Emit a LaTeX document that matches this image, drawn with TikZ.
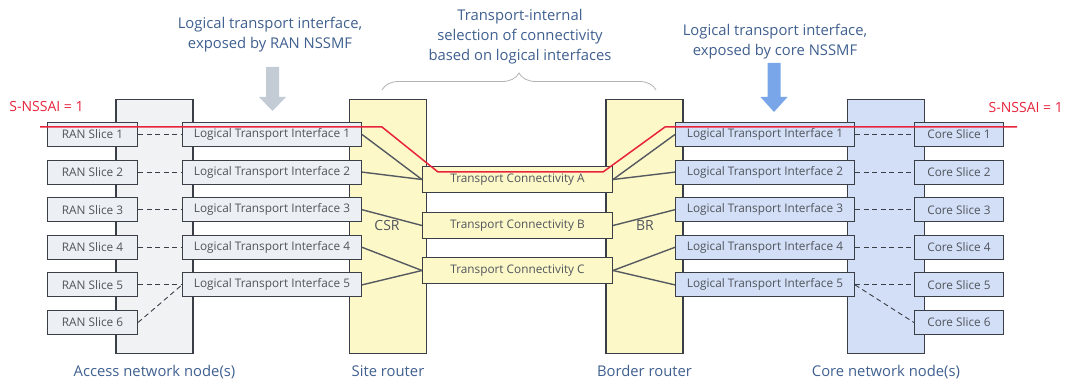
\documentclass[tikz,border=0pt]{standalone}
\usepackage{fontspec}
\setmainfont{Open Sans}
\usepackage{tikz}
\usetikzlibrary{positioning,decorations.pathreplacing}
\usepackage{xcolor}
\definecolor{boxline}{HTML}{3A3F47}
\definecolor{boxtext}{HTML}{50555C}
\definecolor{ranfill}{HTML}{ECEFF3}
\definecolor{accessfill}{HTML}{F1F2F4}
\definecolor{routerfill}{HTML}{FDF8C8}
\definecolor{corefill}{HTML}{D3DFF6}
\definecolor{linkgray}{HTML}{555A61}
\definecolor{capblue}{HTML}{3F5F8F}
\definecolor{nssai}{HTML}{E8243C}
\definecolor{arrowgray}{HTML}{C3CCD5}
\definecolor{arrowblue}{HTML}{78A6E8}

\begin{document}
\begin{tikzpicture}[
    x=1pt, y=-1pt,
    every node/.style={inner sep=0pt, text=boxtext},
    smallbox/.style={draw=boxline, line width=1.1pt, minimum height=24pt,
        font=\fontsize{11.8}{13}\selectfont},
    ranslice/.style={smallbox, fill=ranfill, minimum width=90pt},
    ltiran/.style={smallbox, fill=ranfill, minimum width=179pt},
    lticore/.style={smallbox, fill=corefill, minimum width=179pt},
    coreslice/.style={smallbox, fill=corefill, minimum width=89pt},
    tconn/.style={smallbox, fill=routerfill, minimum width=190pt, minimum height=26pt},
    tallbox/.style={draw=boxline, line width=1.1pt, minimum width=77pt, minimum height=254pt},
    caption/.style={text=capblue, font=\fontsize{14.8}{20}\selectfont, align=center},
    dashline/.style={draw=boxline, line width=0.9pt, dash pattern=on 5pt off 3.5pt},
    link/.style={draw=linkgray, line width=1.4pt},
    redlabel/.style={text=nssai, font=\fontsize{14}{16}\selectfont}
]
    \useasboundingbox (0,0) rectangle (1066,379);

    % network elements
    \node[tallbox, fill=accessfill] (access) at (154.5,226.5) {};
    \node[tallbox, fill=routerfill] (csr) at (388,226.5) {};
    \node[tallbox, fill=routerfill] (br) at (644.5,226.5) {};
    \node[tallbox, fill=corefill] (corenode) at (886,226.5) {};

    \node[caption, below=11pt of access] {Access network node(s)};
    \node[caption, below=11pt of csr] {Site router};
    \node[caption, below=11pt of br] {Border router};
    \node[caption, below=11pt of corenode] {Core network node(s)};

    \node[font=\fontsize{14}{16}\selectfont] (csrlabel) at (387,226) {CSR};
    \node[font=\fontsize{14}{16}\selectfont] (brlabel) at (645,226) {BR};

    % slices and logical interfaces
    \foreach \i in {1,...,6} {
        \node[ranslice] (ran\i) at (92.5,{134.5+37.6*(\i-1)}) {RAN Slice \i};
        \node[coreslice] (core\i) at (959,{134.5+37.6*(\i-1)}) {Core Slice \i};
    }
    \foreach \i in {1,...,5} {
        \node[ltiran] (ltil\i) at (272,{134.5+37.6*(\i-1)}) {Logical Transport Interface \i};
        \node[lticore] (ltir\i) at (765,{134.5+37.6*(\i-1)}) {Logical Transport Interface \i};
        \draw[dashline] (ran\i.east) -- (ltil\i.west);
        \draw[dashline] (ltir\i.east) -- (core\i.west);
    }
    \draw[dashline] (ran6.east) -- (ltil5.west);
    \draw[dashline] (ltir5.east) -- (core6.west);

    % transport connectivity
    \node[tconn] (tca) at (517.5,179.5) {Transport Connectivity A};
    \node[tconn] (tcb) at (517.5,225.5) {Transport Connectivity B};
    \node[tconn] (tcc) at (517.5,270.5) {Transport Connectivity C};

    \draw[link] (ltil1.east) -- (tca.west);
    \draw[link] (ltil2.east) -- (tca.west);
    \draw[link] (ltil3.east) -- (tcb.west);
    \draw[link] (ltil4.east) -- (tcc.west);
    \draw[link] (ltil5.east) -- (tcc.west);
    \draw[link] (tca.east) -- (ltir1.west);
    \draw[link] (tca.east) -- (ltir2.west);
    \draw[link] (tcb.east) -- (ltir3.west);
    \draw[link] (tcc.east) -- (ltir4.west);
    \draw[link] (tcc.east) -- (ltir5.west);

    % exposure arrows and notes
    \node[caption] (ranexp) at (270,35) {Logical transport interface,\\exposed by RAN NSSMF};
    \node[caption] (coreexp) at (775,42) {Logical transport interface,\\exposed by core NSSMF};
    \fill[arrowgray] (266,67) -- (279,67) -- (279,97) -- (286,97) -- (272.5,111)
        -- (259,97) -- (266,97) -- cycle;
    \fill[arrowblue] (767.5,63) -- (780.5,63) -- (780.5,97) -- (787.5,97) -- (774,112)
        -- (760.5,97) -- (767.5,97) -- cycle;

    \node[caption] (internal) at (520,37) {Transport-internal\\selection of connectivity\\based on logical interfaces};
    \coordinate (bracel) at (382,90);
    \coordinate (bracer) at (656,90);
    \draw[gray!60, line width=0.8pt, decorate,
        decoration={brace, amplitude=17pt}] (bracel) -- (bracer);

    % S-NSSAI path
    \node[redlabel] (nssail) at (46.5,107) {S-NSSAI = 1};
    \node[redlabel, anchor=east] (nssair) at (1063,108) {S-NSSAI = 1};
    \coordinate (redstart) at (40,127);
    \coordinate (redend) at (1017,127);
    \draw[nssai, line width=1.5pt] (redstart) -- (382,127) -- (438,172)
        -- (603,172) -- (665,127) -- (redend);
\end{tikzpicture}
\end{document}
